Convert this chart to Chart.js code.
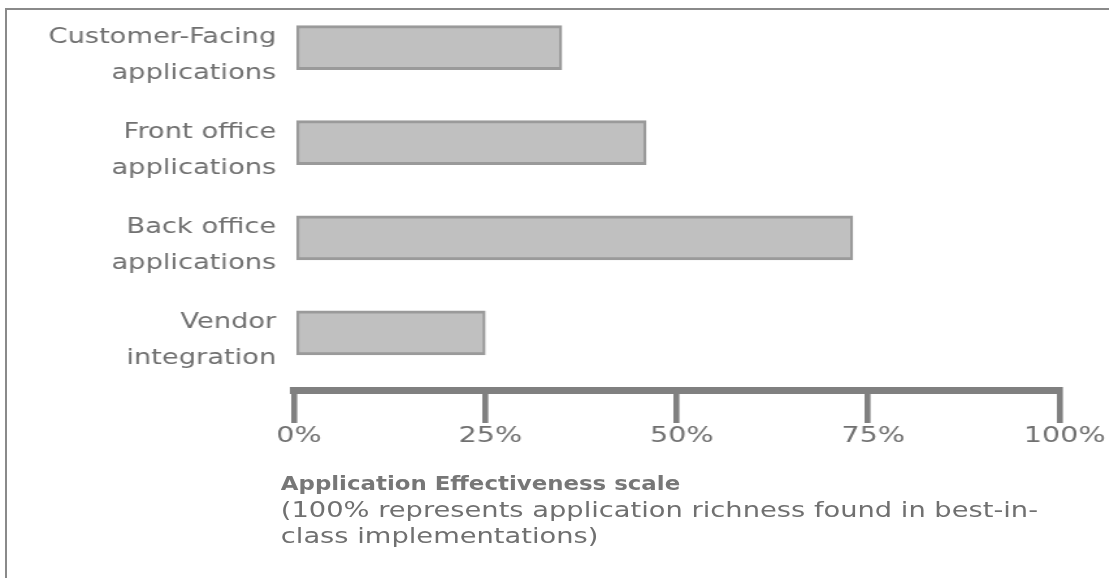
<!DOCTYPE html>
<html>
<head>
<meta charset="utf-8">
<script src="https://cdn.jsdelivr.net/npm/chart.js@4"></script>
<style>
  html, body { margin: 0; padding: 0; background: #fff; overflow: hidden; }
  #page { position: relative; width: 1109px; height: 578px; overflow: hidden; background: #fff; }
  #frame { position: absolute; left: 5px; top: 8px; width: 1200px; height: 700px;
           border-left: 2px solid #8a8a8a; border-top: 2px solid #8a8a8a; }
  /* the whole figure is laid out in a narrower box and widened horizontally */
  #stretch { position: absolute; left: 0; top: 0; width: 853px; height: 578px;
             transform: scaleX(1.3); transform-origin: 0 0; }
  #chartBox { position: absolute; left: 0; top: 0; width: 853px; height: 578px; }
  #caption { position: absolute; left: 216px; top: 470px; font-family: 'DejaVu Sans', sans-serif;
             font-size: 21px; color: #707070; line-height: 26.5px; white-space: nowrap; }
  #caption .head { display: inline-block; font-weight: bold; color: #777; font-size: 20px;
                   transform: scaleX(0.88); transform-origin: 0 50%; }
</style>
</head>
<body>
<div id="page">
  <div id="frame"></div>
  <div id="stretch">
    <div id="chartBox"><canvas id="chart"></canvas></div>
    <div id="caption">
      <span class="head">Application Effectiveness scale</span><br>
      (100% represents application richness found in best-in-<br>
      class implementations)
    </div>
  </div>
</div>
<script>
// Application areas, top to bottom, with their two-line axis labels
const categories = ['Customer-Facing applications', 'Front office applications', 'Back office applications', 'Vendor integration'];
const categoryLines = [
  ['Customer-Facing', 'applications'],
  ['Front office', 'applications'],
  ['Back office', 'applications'],
  ['Vendor', 'integration']
];
// Effectiveness score (% of best-in-class richness)
const effectiveness = [35, 46, 73, 25];
// Scale tick values
const tickValues = [0, 25, 50, 75, 100];

const textGrey = '#707070';
const axisGrey = '#808080';

new Chart(document.getElementById('chart'), {
  type: 'bar',
  data: {
    datasets: [{
      label: 'Application Effectiveness',
      data: effectiveness.map((v, i) => ({ x: v, y: i })),
      backgroundColor: '#c0c0c0',
      borderColor: '#9a9a9a',
      borderWidth: { top: 3, bottom: 3, left: 2.3, right: 2.3 },
      borderSkipped: false,
      barThickness: 44
    }]
  },
  options: {
    indexAxis: 'y',
    responsive: true,
    maintainAspectRatio: false,
    animation: false,
    layout: { padding: { left: 0, right: 38, top: 0, bottom: 0 } },
    plugins: { legend: { display: false }, tooltip: { enabled: false } },
    scales: {
      x: {
        type: 'linear',
        position: 'bottom',
        min: 0,
        max: 100,
        border: { display: true, width: 7, color: axisGrey },
        grid: { display: true, drawOnChartArea: false, drawTicks: true, tickLength: 33, lineWidth: 4.6, color: axisGrey },
        ticks: {
          padding: 0,
          labelOffset: 4,
          color: textGrey,
          autoSkip: false,
          maxRotation: 0,
          font: { family: 'DejaVu Sans', size: 22 },
          callback: v => v + '%'
        },
        afterBuildTicks: s => { s.ticks = tickValues.map(v => ({ value: v })); },
        afterFit: s => { s.height = 188; }
      },
      y: {
        type: 'linear',
        reverse: true,
        offset: false,
        min: -0.5,
        max: 3.6,
        grid: { display: false, drawTicks: false, offset: false },
        border: { display: false },
        ticks: {
          padding: 13.5,
          labelOffset: 8,
          color: textGrey,
          autoSkip: false,
          font: { family: 'DejaVu Sans', size: 21, lineHeight: 1.72 },
          callback: v => categoryLines[v] || ''
        },
        afterBuildTicks: s => { s.ticks = categoryLines.map((_, i) => ({ value: i })); },
        afterFit: s => { s.width = 226; s.paddingTop = 0; s.paddingBottom = 0; }
      }
    }
  }
});
</script>
</body>
</html>
